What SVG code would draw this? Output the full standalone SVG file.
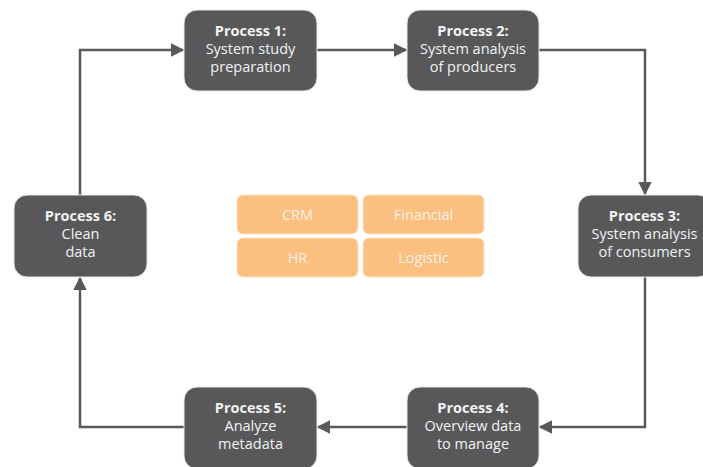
<svg xmlns="http://www.w3.org/2000/svg" width="703" height="467" viewBox="0 0 703 467">
  <style>
    .node rect { fill: #58585a; stroke: #e8e8e8; stroke-width: 1; }
    .node text { font-family: "Open Sans", "Noto Sans", sans-serif; font-size: 14.5px; fill: #f2f2f2; text-anchor: middle; }
    .node .title { font-weight: bold; }
    .tag rect { fill: #fbbf80; stroke: #fde3c6; stroke-width: 1; }
    .tag text { font-family: "Open Sans", "Noto Sans", sans-serif; font-size: 14.5px; fill: #fdf1e4; text-anchor: middle; }
    .conn path { fill: none; stroke: #595959; stroke-width: 2.5; }
  </style>
  <defs>
    <marker id="arrow" viewBox="0 0 10 10" refX="9" refY="5" markerWidth="5.5" markerHeight="5.5" orient="auto" markerUnits="strokeWidth">
      <path d="M0,0 L10,5 L0,10 Z" fill="#595959"/>
    </marker>
  </defs>
  <rect width="703" height="467" fill="#ffffff"/>

  <g class="conn">
    <path d="M80,195 V50 H183" marker-end="url(#arrow)"/>
    <path d="M317,50 H406" marker-end="url(#arrow)"/>
    <path d="M539,50 H645 V194" marker-end="url(#arrow)"/>
    <path d="M645,277 V427 H540" marker-end="url(#arrow)"/>
    <path d="M407,427 H318" marker-end="url(#arrow)"/>
    <path d="M184,427 H80 V278" marker-end="url(#arrow)"/>
  </g>

  <g id="process1" class="node">
    <rect x="184" y="10" width="133" height="81" rx="13"/>
    <text class="title" x="250.5" y="36">Process 1:</text>
    <text x="250.5" y="54">System study</text>
    <text x="250.5" y="72">preparation</text>
  </g>
  <g id="process2" class="node">
    <rect x="407" y="10" width="132" height="81" rx="13"/>
    <text class="title" x="473" y="36">Process 2:</text>
    <text x="473" y="54">System analysis</text>
    <text x="473" y="72">of producers</text>
  </g>
  <g id="process3" class="node">
    <rect x="578" y="195" width="133" height="82" rx="13"/>
    <text class="title" x="644.5" y="221">Process 3:</text>
    <text x="644.5" y="239">System analysis</text>
    <text x="644.5" y="257">of consumers</text>
  </g>
  <g id="process4" class="node">
    <rect x="407" y="387" width="132" height="82" rx="13"/>
    <text class="title" x="473" y="413">Process 4:</text>
    <text x="473" y="431">Overview data</text>
    <text x="473" y="449">to manage</text>
  </g>
  <g id="process5" class="node">
    <rect x="184" y="387" width="133" height="82" rx="13"/>
    <text class="title" x="250.5" y="413">Process 5:</text>
    <text x="250.5" y="431">Analyze</text>
    <text x="250.5" y="449">metadata</text>
  </g>
  <g id="process6" class="node">
    <rect x="14" y="195" width="133" height="82" rx="13"/>
    <text class="title" x="80.5" y="221">Process 6:</text>
    <text x="80.5" y="239">Clean</text>
    <text x="80.5" y="257">data</text>
  </g>

  <g id="crm" class="tag">
    <rect x="237" y="195" width="121" height="39" rx="6"/>
    <text x="297.5" y="220">CRM</text>
  </g>
  <g id="financial" class="tag">
    <rect x="363" y="195" width="121" height="39" rx="6"/>
    <text x="423.5" y="220">Financial</text>
  </g>
  <g id="hr" class="tag">
    <rect x="237" y="238" width="121" height="39" rx="6"/>
    <text x="297.5" y="263">HR</text>
  </g>
  <g id="logistic" class="tag">
    <rect x="363" y="238" width="121" height="39" rx="6"/>
    <text x="423.5" y="263">Logistic</text>
  </g>
</svg>
